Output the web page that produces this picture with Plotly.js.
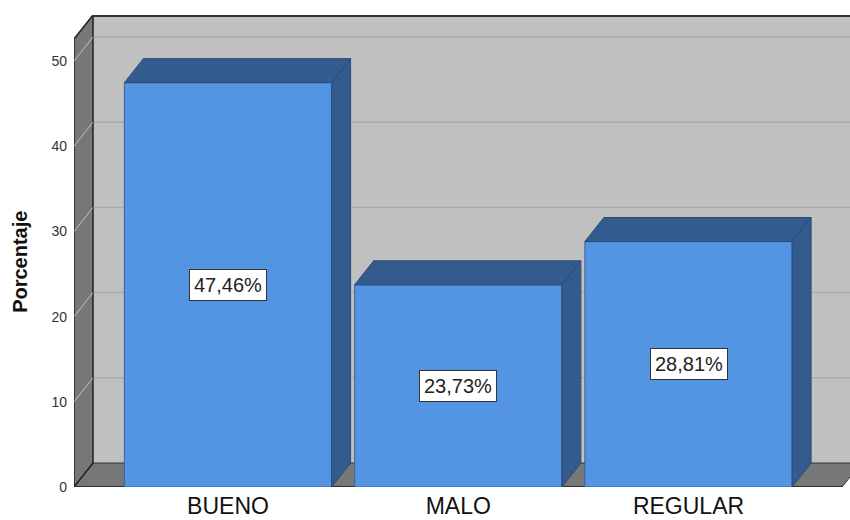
<!DOCTYPE html>
<html>
<head>
<meta charset="utf-8">
<script src="https://cdn.plot.ly/plotly-3.0.1.min.js"></script>
<style>html,body{margin:0;padding:0;background:#fff}</style>
</head>
<body>
<div id="chart" style="width:850px;height:520px"></div>
<script>
// ---- data ----
const categories = ["BUENO", "MALO", "REGULAR"];
const percentages = [47.46, 23.73, 28.81];
const yTickValues = [0, 10, 20, 30, 40, 50];
const yTickLabels = ["0", "10", "20", "30", "40", "50"];
const yTitle = "Porcentaje";

// ---- layout geometry (front plane) ----
const xIdx = categories.map((c, i) => i);
const barWidth = 0.9;
const xL = -0.6688, xRange1 = 2.7014, xRfront = 2.667;
const yTop = 55.4;
const dx = 0.0825, dy = 2.817;   // depth offset of the 3D effect

const faceColor = '#5394e3', darkColor = '#335b8e', edgeColor = '#2a4b76';

const traces = [];
// front faces of the bars
traces.push({
  type: 'bar', x: xIdx, y: percentages, width: barWidth,
  marker: {color: faceColor, line: {color: '#3b6494', width: 1}},
  hoverinfo: 'skip', showlegend: false
});
// top and side faces
xIdx.forEach((xi, i) => {
  const x0 = xi - barWidth / 2, x1 = xi + barWidth / 2, h = percentages[i];
  traces.push({
    type: 'scatter', mode: 'lines', fill: 'toself', fillcolor: darkColor,
    x: [x0, x0 + dx, x1 + dx, x1, x0], y: [h, h + dy, h + dy, h, h],
    line: {color: edgeColor, width: 1}, hoverinfo: 'skip', showlegend: false
  });
  traces.push({
    type: 'scatter', mode: 'lines', fill: 'toself', fillcolor: darkColor,
    x: [x1, x1, x1 + dx, x1 + dx, x1], y: [0, h, h + dy, dy, 0],
    line: {color: edgeColor, width: 1}, hoverinfo: 'skip', showlegend: false
  });
});

const shapes = [];
function poly(xs, ys, fill, lc, lw) {
  let p = 'M ' + xs.map((x, i) => x + ',' + ys[i]).join(' L ') + ' Z';
  shapes.push({type: 'path', path: p, xref: 'x', yref: 'y', layer: 'below',
    fillcolor: fill, line: {color: lc, width: lw}});
}
function seg(x0, y0, x1, y1, color, w) {
  shapes.push({type: 'line', xref: 'x', yref: 'y', layer: 'below',
    x0: x0, y0: y0, x1: x1, y1: y1, line: {color: color, width: w}});
}
// back wall
poly([xL + dx, xRange1 + 0.2, xRange1 + 0.2, xL + dx], [dy, dy, yTop + 1, yTop + 1], '#c0c0c0', 'rgba(0,0,0,0)', 0);
// back wall gridlines
yTickValues.forEach(v => { if (v > 0) seg(xL + dx, v + dy, xRange1 + 0.2, v + dy, '#aaaaaa', 1.5); });
// floor
poly([xL, xL + dx, xRfront + dx, xRfront], [0, dy, dy, 0], '#777777', '#333333', 1);
// left wall
poly([xL, xL, xL + dx, xL + dx], [0, yTop - dy, yTop, dy], '#777777', '#222222', 1.5);
// left wall gridlines
yTickValues.forEach(v => { if (v > 0) seg(xL, v, xL + dx, v + dy, '#c4c4c4', 1); });
// back top edge
seg(xL + dx, yTop - 0.12, xRange1 + 0.2, yTop - 0.12, '#333333', 2);
// front floor edge
seg(xL, 0, xRfront, 0, '#222222', 1.5);

// value labels
const annotations = xIdx.map((xi, i) => ({
  x: xi, y: percentages[i] / 2, xref: 'x', yref: 'y', showarrow: false,
  text: percentages[i].toFixed(2).replace('.', ',') + '%',
  font: {family: 'Liberation Sans, Arial, sans-serif', size: 20, color: '#222'},
  bgcolor: '#ffffff', bordercolor: '#333333', borderwidth: 1, borderpad: 4
}));
// y axis title (placed as a rotated annotation to match the original position)
annotations.push({
  xref: 'paper', yref: 'paper', x: -0.069, y: 0.478, xanchor: 'center', yanchor: 'middle',
  showarrow: false, textangle: -90, text: '<b>' + yTitle + '</b>',
  font: {family: 'Liberation Sans, Arial, sans-serif', size: 20, color: '#111'}
});

const layout = {
  width: 850, height: 520,
  margin: {l: 74, r: 0, t: 15, b: 33},
  paper_bgcolor: '#ffffff', plot_bgcolor: 'rgba(0,0,0,0)',
  font: {family: 'Liberation Sans, Arial, sans-serif', color: '#222'},
  showlegend: false,
  xaxis: {
    range: [xL, xRange1], tickvals: xIdx, ticktext: categories,
    showgrid: false, zeroline: false, showline: false, ticks: '',
    ticklabelstandoff: 3,
    tickfont: {size: 23, color: '#111'}, fixedrange: true
  },
  yaxis: {
    range: [0, yTop], tickvals: yTickValues, ticktext: yTickLabels,
    showgrid: false, zeroline: false, showline: false,
    ticks: '', ticklabelstandoff: 6,
    tickfont: {size: 14, color: '#333'}, fixedrange: true
  },
  shapes: shapes,
  annotations: annotations
};

Plotly.newPlot('chart', traces, layout, {displayModeBar: false, staticPlot: true});
</script>
</body>
</html>
